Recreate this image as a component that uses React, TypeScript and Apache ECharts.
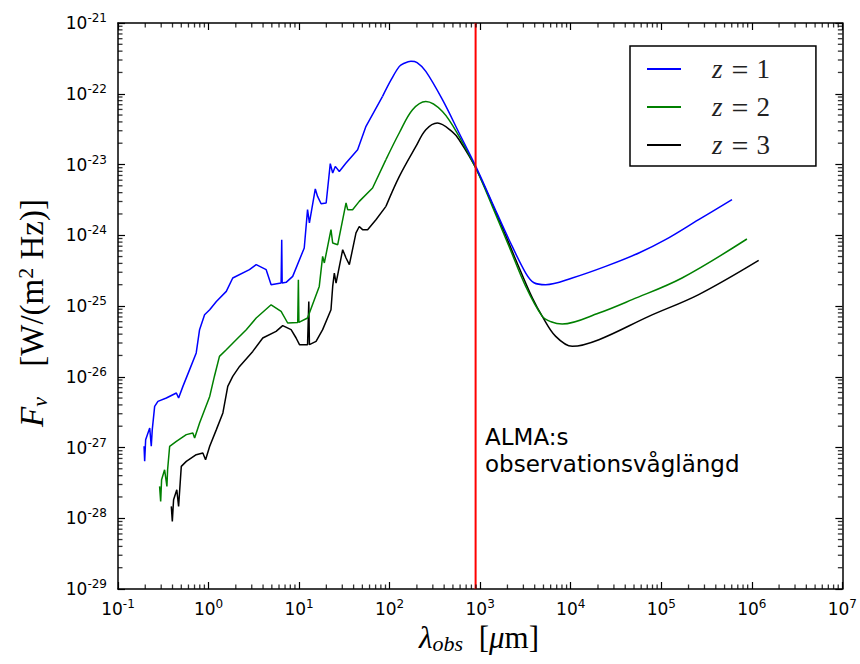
import React, { useEffect, useRef } from 'react';
import * as echarts from 'echarts';

// Observed wavelength [µm] and flux density F_nu [W/(m^2 Hz)]
const z1Spectrum: [number, number][] = [
  [0.194, 1.04e-27], [0.197, 6.4e-28], [0.202, 1.29e-27], [0.224, 1.89e-27], [0.233, 1.04e-27],
  [0.239, 1.79e-27], [0.254, 3.81e-27], [0.276, 4.49e-27], [0.342, 5.01e-27], [0.441, 5.89e-27],
  [0.467, 5.01e-27], [0.521, 7.31e-27], [0.618, 1.26e-26], [0.731, 2.17e-26], [0.796, 4.63e-26],
  [0.904, 7.53e-26], [1.03, 8.87e-26], [1.22, 1.16e-25], [1.57, 1.61e-25], [1.85, 2.49e-25],
  [2.83, 3.26e-25], [3.36, 3.84e-25], [4.33, 3.26e-25], [4.91, 2.0e-25], [6.33, 2.11e-25],
  [6.43, 8.65e-25], [6.5, 2.11e-25], [7.19, 2.16e-25], [8.5, 2.62e-25], [11.4, 6.61e-25],
  [12.4, 2.3e-24], [13.0, 1.49e-24], [15.1, 4.51e-24], [16.0, 3.54e-24], [17.5, 2.79e-24],
  [19.9, 2.86e-24], [22.1, 1.03e-23], [23.5, 7.59e-24], [25.1, 9.4e-24], [27.8, 7.98e-24],
  [33.0, 1.05e-23], [44.3, 1.62e-23], [54.8, 3.46e-23], [83.5, 9.18e-23],
];
const z1Dust: [number, number][] = [
  [83.5, 9.18e-23], [104, 1.58e-22], [128, 2.44e-22], [145, 2.7e-22], [172, 2.87e-22],
  [201, 2.75e-22], [251, 2.07e-22], [383, 8.24e-23], [585, 2.79e-23], [894, 9.4e-24],
  [1362, 2.86e-24], [2084, 8.65e-25], [3184, 2.92e-25], [3929, 2.13e-25], [5284, 2.0e-25],
  [10400, 2.49e-25], [24270, 3.63e-25], [56500, 5.61e-25], [111200, 8.65e-25],
  [258800, 1.66e-24], [604000, 3.18e-24],
];

const z2Spectrum: [number, number][] = [
  [0.288, 2.82e-28], [0.296, 1.73e-28], [0.303, 3.51e-28], [0.327, 4.85e-28], [0.347, 2.82e-28],
  [0.353, 4.85e-28], [0.372, 1.04e-27], [0.441, 1.22e-27], [0.568, 1.52e-27], [0.671, 1.6e-27],
  [0.702, 1.36e-27], [0.796, 2.22e-27], [1.03, 5.27e-27], [1.16, 1.01e-26], [1.32, 1.94e-26],
  [1.57, 2.41e-26], [2.02, 3.34e-26], [2.61, 4.63e-26], [3.36, 6.76e-26], [4.91, 1.04e-25],
  [6.33, 8.39e-26], [7.48, 5.75e-26], [9.66, 5.86e-26], [9.82, 2.35e-25], [9.95, 5.86e-26],
  [12.4, 6.76e-26], [16.7, 1.89e-25], [18.2, 5.02e-25], [19.0, 4.06e-25], [22.5, 1.2e-24],
  [23.5, 7.77e-25], [26.7, 7.35e-25], [33.0, 2.86e-24], [34.4, 2.3e-24], [39.0, 2.3e-24],
  [46.2, 3.01e-24], [64.8, 4.66e-24], [91.0, 1.17e-23],
];
const z2Dust: [number, number][] = [
  [91.0, 1.17e-23], [128, 2.81e-23], [179, 5.95e-23], [251, 7.8e-23], [383, 5.63e-23],
  [585, 2.5e-23], [894, 8.93e-24], [1362, 2.56e-24], [2084, 6.95e-25], [3184, 1.89e-25],
  [4853, 7.13e-26], [6050, 6.0e-26], [8054, 5.57e-26], [20470, 7.96e-26], [47640, 1.23e-25],
  [169500, 2.49e-25], [883000, 8.85e-25],
];

const z3Spectrum: [number, number][] = [
  [0.388, 1.47e-28], [0.398, 9.03e-29], [0.411, 1.83e-28], [0.446, 2.53e-28], [0.467, 1.47e-28],
  [0.5, 5.41e-28], [0.568, 6.37e-28], [0.731, 7.91e-28], [0.865, 8.36e-28], [0.927, 6.73e-28],
  [1.03, 1.04e-27], [1.22, 1.79e-27], [1.44, 3.08e-27], [1.63, 7.31e-27], [1.85, 1.01e-26],
  [2.2, 1.4e-26], [3.08, 2.28e-26], [3.97, 3.53e-26], [5.57, 4.38e-26], [6.59, 5.27e-26],
  [8.16, 4.63e-26], [9.27, 3.53e-26], [10.1, 2.84e-26], [12.4, 2.84e-26], [12.8, 1.16e-25],
  [13.0, 2.84e-26], [15.4, 3.16e-26], [18.2, 4.63e-26], [22.5, 8.87e-26], [23.5, 1.89e-25],
  [24.5, 2.92e-25], [25.6, 2.11e-25], [30.3, 6.25e-25], [33.0, 4.77e-25], [35.9, 3.84e-25],
  [42.5, 1.08e-24], [46.2, 1.33e-24], [50.2, 1.2e-24], [57.1, 1.2e-24], [70.6, 1.66e-24],
  [91.0, 2.56e-24],
];
const z3Dust: [number, number][] = [
  [91.0, 2.56e-24], [128, 6.79e-24], [195, 1.8e-23], [251, 3.1e-23], [337, 3.86e-23],
  [493, 2.9e-23], [585, 2.24e-23], [894, 8.93e-24], [1615, 1.66e-24], [2470, 4.51e-25],
  [3765, 1.3e-25], [4853, 7.13e-26], [6823, 3.72e-26], [10400, 2.69e-26], [20470, 3.34e-26],
  [72800, 7.13e-26], [258800, 1.45e-25], [1190000, 4.41e-25],
];

const seriesNames = ['z = 1', 'z = 2', 'z = 3'];
const seriesColors = ['#0000ff', '#008000', '#000000'];
const almaWavelength = 890; // µm
const almaLabel = 'ALMA:s\nobservationsvåglängd';

const X_MIN = 0.1;
const X_MAX = 1e7;
const FLUX_UNIT = 1e-29; // plotted flux is expressed in units of 1e-29 W/(m^2 Hz)
const Y_MIN = 1e-29;
const Y_MAX = 1e-21;
const minorMultipliers = [2, 3, 4, 5, 6, 7, 8, 9];

const scale = (pts: [number, number][]) => pts.map(([x, y]) => [x, y / FLUX_UNIT]);

function minorTicks(minV: number, maxV: number): number[] {
  const out: number[] = [];
  const e0 = Math.round(Math.log10(minV));
  const e1 = Math.round(Math.log10(maxV));
  for (let e = e0; e < e1; e++) {
    for (const m of minorMultipliers) out.push(m * Math.pow(10, e));
  }
  return out;
}

export default function App() {
  const ref = useRef<HTMLDivElement>(null);
  useEffect(() => {
    if (!ref.current) return;
    const chart = echarts.init(ref.current, null, { renderer: 'svg' });
    const yLo = Y_MIN / FLUX_UNIT;
    const yHi = Y_MAX / FLUX_UNIT;
    const tickFont = 'DejaVu Sans';
    const labelRich = {
      b: { fontSize: 17, lineHeight: 22, fontFamily: tickFont, color: '#000' },
      s: { fontSize: 12, lineHeight: 12, fontFamily: tickFont, color: '#000', verticalAlign: 'top' },
    };
    const axisLine = { show: true, lineStyle: { color: '#000', width: 1.5 } };
    const majorTick = { show: true, inside: true, length: 7, lineStyle: { color: '#000', width: 1.2 } };

    const spectra = [
      [z1Spectrum, z1Dust],
      [z2Spectrum, z2Dust],
      [z3Spectrum, z3Dust],
    ];
    const curveSeries: any[] = [];
    spectra.forEach(([jag, dust], i) => {
      curveSeries.push({
        type: 'line', name: seriesNames[i], data: scale(jag), symbol: 'none', showSymbol: false,
        lineStyle: { color: seriesColors[i], width: 1.5 }, itemStyle: { color: seriesColors[i] },
        z: 3 - i,
      });
      curveSeries.push({
        type: 'line', name: seriesNames[i], data: scale(dust), symbol: 'none', showSymbol: false, smooth: 0.35,
        lineStyle: { color: seriesColors[i], width: 1.5 }, itemStyle: { color: seriesColors[i] },
        z: 3 - i,
      });
    });

    const xMinor = minorTicks(X_MIN, X_MAX);
    const yMinor = minorTicks(yLo, yHi);
    const tickSeries = (name: string, data: number[][], size: number[], offset: number[]) => ({
      type: 'scatter', name, data, symbol: 'rect', symbolSize: size, symbolOffset: offset,
      itemStyle: { color: '#000' }, silent: true, clip: false, z: 10,
      emphasis: { disabled: true },
    });

    const option: any = {
      animation: false,
      grid: { left: 118, right: 16, top: 23, bottom: 75, containLabel: false },
      legend: {
        data: seriesNames,
        orient: 'vertical',
        left: 630,
        top: 46,
        padding: [8, 46, 6, 17],
        itemGap: 8,
        itemWidth: 34,
        itemHeight: 2,
        icon: 'rect',
        borderColor: '#000',
        borderWidth: 1.5,
        borderRadius: 0,
        backgroundColor: '#fff',
        formatter: (name: string) => {
          const v = name.split('=')[1].trim();
          return `{i|z}{e|=}{n|${v}}`;
        },
        textStyle: {
          rich: {
            i: { fontFamily: 'Liberation Serif', fontStyle: 'italic', fontSize: 27, lineHeight: 26, color: '#222', padding: [0, 0, 0, 26] },
            e: { fontFamily: 'Liberation Serif', fontSize: 30, lineHeight: 26, color: '#222', padding: [0, 8, 0, 9] },
            n: { fontFamily: 'Liberation Serif', fontSize: 27, lineHeight: 26, color: '#222' },
          },
        },
      },
      xAxis: [
        {
          type: 'log', logBase: 10, min: X_MIN, max: X_MAX, position: 'bottom',
          axisLine, axisTick: majorTick, splitLine: { show: false },
          axisLabel: {
            margin: 9,
            formatter: (v: number) => `{b|10}{s|${Math.round(Math.log10(v))}}`,
            rich: labelRich,
          },
        },
        {
          type: 'log', logBase: 10, min: X_MIN, max: X_MAX, position: 'top',
          axisLine, axisTick: majorTick, splitLine: { show: false }, axisLabel: { show: false },
        },
      ],
      yAxis: [
        {
          type: 'log', logBase: 10, min: yLo, max: yHi, position: 'left',
          axisLine, axisTick: majorTick, splitLine: { show: false },
          axisLabel: {
            margin: 11,
            formatter: (v: number) => `{b|10}{s|${Math.round(Math.log10(v * FLUX_UNIT))}}`,
            rich: labelRich,
          },
        },
        {
          type: 'log', logBase: 10, min: yLo, max: yHi, position: 'right',
          axisLine, axisTick: majorTick, splitLine: { show: false }, axisLabel: { show: false },
        },
      ],
      series: [
        ...curveSeries,
        {
          type: 'line', name: 'ALMA', data: [[almaWavelength, yLo], [almaWavelength, yHi]],
          symbol: 'none', showSymbol: false, lineStyle: { color: '#ff0000', width: 2 }, z: 5,
        },
        tickSeries('xMinorBottom', xMinor.map((v) => [v, yLo]), [1.3, 4.5], [0, -2.25]),
        tickSeries('xMinorTop', xMinor.map((v) => [v, yHi]), [1.3, 4.5], [0, 2.25]),
        tickSeries('yMinorLeft', yMinor.map((v) => [X_MIN, v]), [4.5, 1.3], [2.25, 0]),
        tickSeries('yMinorRight', yMinor.map((v) => [X_MAX, v]), [4.5, 1.3], [-2.25, 0]),
      ],
      graphic: [
        {
          type: 'text', x: 485, y: 423,
          style: {
            text: almaLabel, fontFamily: 'DejaVu Sans', fontSize: 23, lineHeight: 27,
            fill: '#000', align: 'left', verticalAlign: 'top',
          },
        },
        {
          type: 'text', x: 479, y: 620,
          style: {
            text: '{l|λ}{sub|obs}{sp| }{n|[}{i|μ}{n|m]}',
            align: 'center', verticalAlign: 'top',
            rich: {
              l: { fontFamily: 'Liberation Serif', fontStyle: 'italic', fontSize: 31, lineHeight: 34, fill: '#000' },
              sub: { fontFamily: 'Liberation Serif', fontStyle: 'italic', fontSize: 22, lineHeight: 20, fill: '#000', verticalAlign: 'bottom' },
              sp: { fontFamily: 'Liberation Serif', fontSize: 31, lineHeight: 34, fill: '#000', padding: [0, 8, 0, 0] },
              n: { fontFamily: 'Liberation Serif', fontSize: 31, lineHeight: 34, fill: '#000' },
              i: { fontFamily: 'Liberation Serif', fontStyle: 'italic', fontSize: 31, lineHeight: 34, fill: '#000' },
            },
          },
        },
        {
          type: 'text', x: 32, y: 313, rotation: Math.PI / 2,
          style: {
            text: '{i|F}{sub|ν}{sp| }{n|[W/(m}{sup|2}{n| Hz)]}',
            align: 'center', verticalAlign: 'middle',
            rich: {
              i: { fontFamily: 'Liberation Serif', fontStyle: 'italic', fontSize: 33, lineHeight: 36, fill: '#000' },
              sub: { fontFamily: 'Liberation Serif', fontStyle: 'italic', fontSize: 22, lineHeight: 20, fill: '#000', verticalAlign: 'bottom' },
              sp: { fontFamily: 'Liberation Serif', fontSize: 33, lineHeight: 36, fill: '#000', padding: [0, 22, 0, 0] },
              n: { fontFamily: 'Liberation Serif', fontSize: 33, lineHeight: 36, fill: '#000' },
              sup: { fontFamily: 'Liberation Serif', fontSize: 22, lineHeight: 20, fill: '#000', verticalAlign: 'top' },
            },
          },
        },
      ],
    };
    chart.setOption(option);
    return () => chart.dispose();
  }, []);
  return <div ref={ref} style={{ position: 'fixed', left: 0, top: 0, width: 860, height: 664, background: '#fff' }} />;
}
